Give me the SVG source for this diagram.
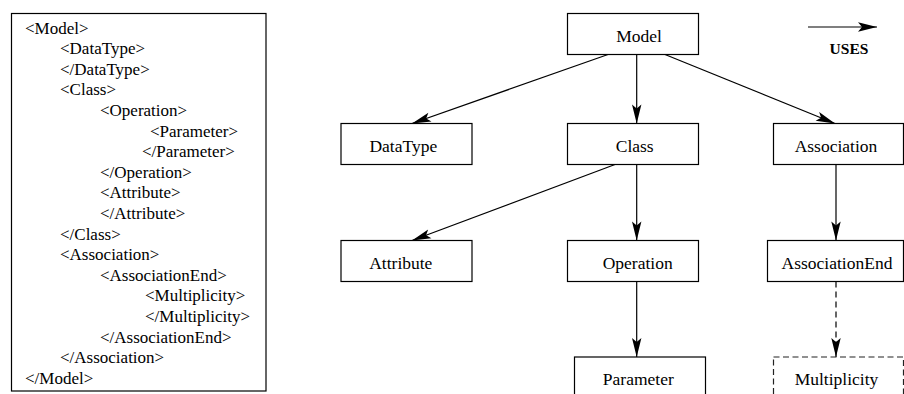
<svg xmlns="http://www.w3.org/2000/svg" width="904" height="394" viewBox="0 0 904 394" font-family="Liberation Serif, Times New Roman, Times, serif">
<style>
  .box { fill: #fff; stroke: #000; stroke-width: 1.2; }
  .dbox { fill: #fff; stroke: #222; stroke-width: 1.2; stroke-dasharray: 6 3.5; }
  .lbl { font-size: 17.5px; fill: #000; text-anchor: middle; }
  .xml { font-size: 17px; fill: #000; }
  .edge { fill: none; stroke: #000; stroke-width: 1.2; marker-end: url(#arr); }
  .dashed { stroke-dasharray: 6 4; }
  .legend { font-size: 15.5px; font-weight: bold; text-anchor: middle; fill: #000; }
</style>
<defs>
  <marker id="arr" markerUnits="userSpaceOnUse" viewBox="-20 -5 20 10" markerWidth="20" markerHeight="10" refX="0" refY="0" orient="auto">
    <path d="M0,0 L-19,-4.7 L-15,0 L-19,4.7 Z" fill="#000"/>
  </marker>
</defs>
<rect width="904" height="394" fill="#fff"/>

<g id="xml-listing" font-family="Liberation Serif, Times New Roman, Times, serif">
  <rect x="11.5" y="13.5" width="254.5" height="377.5" class="box"/>
  <text class="xml" x="25" y="33.5">&lt;Model&gt;</text>
  <text class="xml" x="60" y="54.1">&lt;DataType&gt;</text>
  <text class="xml" x="60" y="74.7">&lt;/DataType&gt;</text>
  <text class="xml" x="60" y="95.3">&lt;Class&gt;</text>
  <text class="xml" x="100" y="115.9">&lt;Operation&gt;</text>
  <text class="xml" x="150" y="136.5">&lt;Parameter&gt;</text>
  <text class="xml" x="142" y="157.1">&lt;/Parameter&gt;</text>
  <text class="xml" x="100" y="177.7">&lt;/Operation&gt;</text>
  <text class="xml" x="100" y="198.3">&lt;Attribute&gt;</text>
  <text class="xml" x="100" y="218.9">&lt;/Attribute&gt;</text>
  <text class="xml" x="60" y="239.5">&lt;/Class&gt;</text>
  <text class="xml" x="60" y="260.1">&lt;Association&gt;</text>
  <text class="xml" x="100" y="280.7">&lt;AssociationEnd&gt;</text>
  <text class="xml" x="145" y="301.3">&lt;Multiplicity&gt;</text>
  <text class="xml" x="145" y="321.9">&lt;/Multiplicity&gt;</text>
  <text class="xml" x="100" y="342.5">&lt;/AssociationEnd&gt;</text>
  <text class="xml" x="60" y="363.1">&lt;/Association&gt;</text>
  <text class="xml" x="25" y="383.7">&lt;/Model&gt;</text>
</g>

<g id="connectors">
  <path class="edge" d="M608,54.5 L412,123.5"/>
  <path class="edge" d="M636.7,54.5 L636.7,123.5"/>
  <path class="edge" d="M665,54.5 L835,123.5"/>
  <path class="edge" d="M615,164.5 L412,240.5"/>
  <path class="edge" d="M636.7,164.5 L636.7,240.5"/>
  <path class="edge" d="M836,164.5 L836,240.5"/>
  <path class="edge" d="M636.7,281.5 L636.7,357"/>
  <path class="edge dashed" d="M836,281.5 L836,357"/>
</g>

<g id="node-model">
  <rect x="567.5" y="13.5" width="131" height="41" class="box"/>
  <text class="lbl" x="639" y="41.5">Model</text>
</g>
<g id="node-datatype">
  <rect x="341" y="123.5" width="131" height="41" class="box"/>
  <text class="lbl" x="403.3" y="151.5">DataType</text>
</g>
<g id="node-class">
  <rect x="567.5" y="123.5" width="131" height="41" class="box"/>
  <text class="lbl" x="634.7" y="151.5">Class</text>
</g>
<g id="node-association">
  <rect x="773.5" y="123.5" width="130" height="41" class="box"/>
  <text class="lbl" x="836" y="151.5">Association</text>
</g>
<g id="node-attribute">
  <rect x="341" y="240.5" width="131" height="41" class="box"/>
  <text class="lbl" x="400.8" y="268.5">Attribute</text>
</g>
<g id="node-operation">
  <rect x="567.5" y="240.5" width="131" height="41" class="box"/>
  <text class="lbl" x="637.7" y="268.5">Operation</text>
</g>
<g id="node-associationend">
  <rect x="767.5" y="240.5" width="136" height="41" class="box"/>
  <text class="lbl" x="837" y="268.5">AssociationEnd</text>
</g>
<g id="node-parameter">
  <rect x="574.5" y="357" width="131" height="50" class="box"/>
  <text class="lbl" x="638.3" y="385">Parameter</text>
</g>
<g id="node-multiplicity">
  <rect x="773.5" y="357" width="130" height="50" class="dbox"/>
  <text class="lbl" x="836.5" y="385">Multiplicity</text>
</g>

<g id="legend">
  <path class="edge" d="M808,27 L877,27"/>
  <text class="legend" x="849" y="54">USES</text>
</g>
</svg>
